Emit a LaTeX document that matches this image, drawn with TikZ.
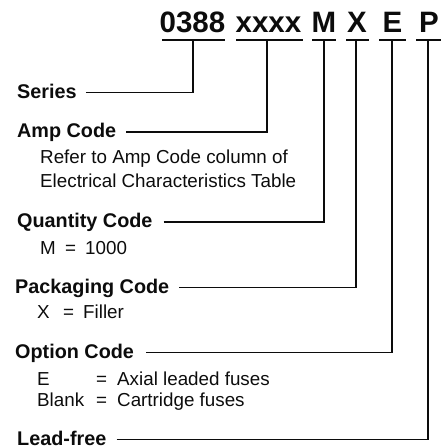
\documentclass[tikz,border=0pt]{standalone}
\usepackage{fontspec}
\setmainfont{Liberation Sans}
\definecolor{ink}{RGB}{12,12,12}
\begin{document}
\begin{tikzpicture}[x=1pt,y=-1pt,
  codepart/.style={font=\fontsize{29.5}{30}\selectfont\bfseries, inner sep=0pt, anchor=base, text=ink},
  fieldlabel/.style={font=\fontsize{19.8}{22}\selectfont\bfseries, inner sep=0pt, anchor=base west, text height=11pt, text depth=0pt, text=ink},
  desctext/.style={font=\fontsize{18.8}{22}\selectfont, inner sep=0pt, anchor=base west, text=ink},
  underbar/.style={line width=2.5pt, draw=ink},
  leader/.style={line width=1.3pt, draw=ink}]
\useasboundingbox (0,0) rectangle (441,448);

% title parts
\node[codepart] (t1) at (192.5,32) {0388};
\node[codepart] (t2) at (268.5,32) {xxxx};
\node[codepart] (t3) at (324,32) {M};
\node[codepart] (t4) at (357,32) {X};
\node[codepart] (t5) at (392.5,32) {E};
\node[codepart] (t6) at (429,32) {P};

% underline centres
\coordinate (u1) at (193,40);
\coordinate (u2) at (267,40);
\coordinate (u3) at (324,40);
\coordinate (u4) at (356,40);
\coordinate (u5) at (392,40);
\coordinate (u6) at (428,40);

\draw[underbar] (162,40) -- (225,40);
\draw[underbar] (236,40) -- (303,40);
\draw[underbar] (312,40) -- (336,40);
\draw[underbar] (346,40) -- (369,40);
\draw[underbar] (379,40) -- (406,40);
\draw[underbar] (416,40) -- (441,40);

% labels
\node[fieldlabel] (ser) at (17,98) {Series};
\node[fieldlabel] (amp) at (17,137.5) {Amp Code};
\node[fieldlabel] (qty) at (17,227.5) {Quantity Code};
\node[fieldlabel] (pkg) at (15,293) {Packaging Code};
\node[fieldlabel] (opt) at (15,358) {Option Code};
\node[fieldlabel] (lf)  at (17,445) {Lead-free};

% connectors
\draw[leader] ([xshift=9pt]ser.east) -| (u1);
\draw[leader] ([xshift=10pt]amp.east) -| (u2);
\draw[leader] ([xshift=11pt]qty.east) -| (u3);
\draw[leader] ([xshift=10pt]pkg.east) -| (u4);
\draw[leader] ([xshift=12pt]opt.east) -| (u5);
\draw[leader] ([xshift=10pt]lf.east) -| (u6);

% descriptions
\node[desctext] (r1) at (40,163.3) {Refer to Amp Code column of};
\node[desctext] (r2) at (40,187.3) {Electrical Characteristics Table};

\node[desctext] (m1) at (40,254) {M};
\node[desctext] (m2) at (65,254) {=};
\node[desctext] (m3) at (85,254) {1000};

\node[desctext] (x1) at (37,318.5) {X};
\node[desctext] (x2) at (63,318.5) {=};
\node[desctext] (x3) at (83,318.5) {Filler};

\node[desctext] (e1) at (37,385) {E};
\node[desctext] (e2) at (96,385) {=};
\node[desctext] (e3) at (117,385) {Axial leaded fuses};

\node[desctext] (b1) at (37,406.7) {Blank};
\node[desctext] (b2) at (96,406.7) {=};
\node[desctext] (b3) at (117,406.7) {Cartridge fuses};
\end{tikzpicture}
\end{document}
